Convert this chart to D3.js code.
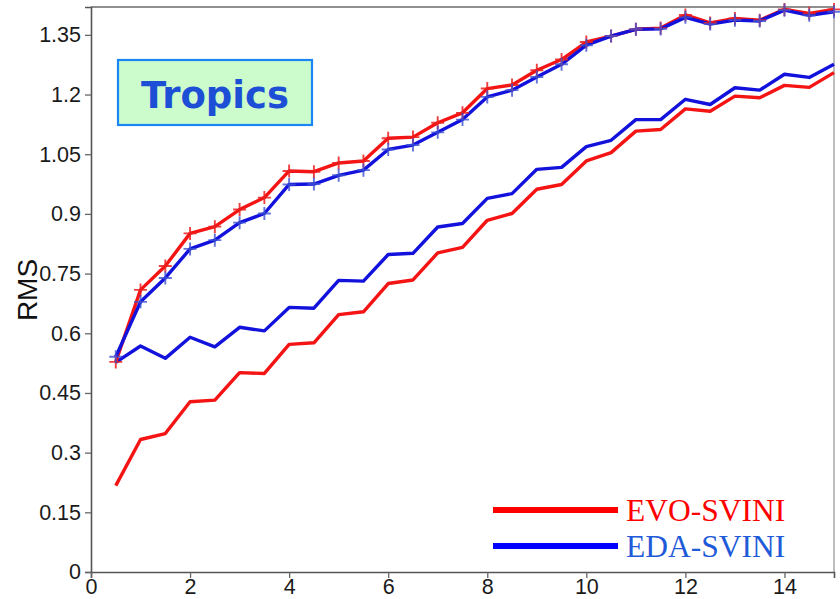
<!DOCTYPE html>
<html>
<head>
<meta charset="utf-8">
<script src="https://cdn.jsdelivr.net/npm/d3@7"></script>
<style>
  html, body { margin: 0; padding: 0; background: #fff; }
  svg { display: block; }
</style>
</head>
<body>
<svg id="chart" width="840" height="599"></svg>
<script>
// Forecast lead (days)
const leads = [0.5, 1, 1.5, 2, 2.5, 3, 3.5, 4, 4.5, 5, 5.5, 6, 6.5, 7, 7.5,
               8, 8.5, 9, 9.5, 10, 10.5, 11, 11.5, 12, 12.5, 13, 13.5, 14, 14.5, 15];

// RMS error (curves marked with +)
const evoErr = [0.528, 0.709, 0.769, 0.851, 0.868, 0.911, 0.941, 1.008, 1.006, 1.028,
                1.033, 1.090, 1.093, 1.129, 1.154, 1.215, 1.224, 1.261, 1.288, 1.332,
                1.347, 1.364, 1.367, 1.400, 1.380, 1.391, 1.387, 1.414, 1.404, 1.414];
const edaErr = [0.541, 0.679, 0.739, 0.812, 0.834, 0.878, 0.901, 0.974, 0.975, 0.997,
                1.010, 1.062, 1.073, 1.105, 1.137, 1.194, 1.211, 1.244, 1.276, 1.324,
                1.347, 1.364, 1.365, 1.394, 1.377, 1.387, 1.385, 1.412, 1.399, 1.408];

// RMS spread (plain curves)
const evoSpread = [0.217, 0.333, 0.348, 0.428, 0.432, 0.501, 0.499, 0.572, 0.576, 0.647,
                   0.654, 0.725, 0.734, 0.802, 0.816, 0.884, 0.901, 0.962, 0.974, 1.033,
                   1.054, 1.108, 1.112, 1.164, 1.158, 1.196, 1.192, 1.223, 1.218, 1.255];
const edaSpread = [0.527, 0.568, 0.537, 0.590, 0.566, 0.615, 0.606, 0.665, 0.663, 0.733,
                   0.731, 0.798, 0.801, 0.867, 0.876, 0.939, 0.951, 1.012, 1.017, 1.069,
                   1.085, 1.137, 1.137, 1.188, 1.175, 1.217, 1.211, 1.251, 1.243, 1.276];

const xTicks = [0, 2, 4, 6, 8, 10, 12, 14];
const yTicks = [0, 0.15, 0.3, 0.45, 0.6, 0.75, 0.9, 1.05, 1.2, 1.35];
const yTickLabels = ["0", "0.15", "0.3", "0.45", "0.6", "0.75", "0.9", "1.05", "1.2", "1.35"];

const seriesNames = ["EVO-SVINI", "EDA-SVINI"];
const regionTitle = "Tropics";
const yTitle = "RMS";

const RED = "#f41414";
const BLUE = "#1212dc";

const svg = d3.select("#chart");
const margin = { left: 91, top: 7, right: 6, bottom: 27 };
const W = 840, H = 599;

const x = d3.scaleLinear().domain([0, 15]).range([margin.left, W - margin.right]);
const y = d3.scaleLinear().domain([0, 1.42]).range([H - margin.bottom, margin.top]);

// frame: top and right edges
svg.append("line")
  .attr("x1", x(0)).attr("x2", x(15)).attr("y1", y(1.42)).attr("y2", y(1.42))
  .attr("stroke", "#6a6a6a").attr("stroke-width", 1.5);
svg.append("line")
  .attr("x1", x(15)).attr("x2", x(15)).attr("y1", y(1.42)).attr("y2", y(0))
  .attr("stroke", "#a8a8a8").attr("stroke-width", 1.5);

// axes
const yAxis = d3.axisLeft(y)
  .tickValues(yTicks)
  .tickFormat((d, i) => yTickLabels[i])
  .tickSize(6).tickPadding(4);
const xAxis = d3.axisBottom(x)
  .tickValues(xTicks)
  .tickFormat(d3.format("d"))
  .tickSize(6).tickPadding(1);

function styleAxis(g) {
  g.select(".domain").attr("stroke", "#555").attr("stroke-width", 1.6);
  g.selectAll(".tick line").attr("stroke", "#666").attr("stroke-width", 1.3);
  g.selectAll(".tick text")
    .attr("fill", "#1a1a1a")
    .style("font-family", "'Liberation Sans', Arial, sans-serif")
    .style("font-size", "21.5px");
}

svg.append("g").attr("transform", `translate(${margin.left},0)`).call(yAxis).call(styleAxis);
svg.append("g").attr("transform", `translate(0,${H - margin.bottom})`).call(xAxis).call(styleAxis);

// y title
svg.append("text")
  .attr("transform", `translate(37,290) rotate(-90)`)
  .attr("text-anchor", "middle")
  .style("font-family", "'Liberation Sans', Arial, sans-serif")
  .style("font-size", "28px")
  .attr("fill", "#111")
  .text(yTitle);

// curves
const line = d3.line()
  .x((d, i) => x(leads[i]))
  .y(d => y(d));

const curves = [
  { values: evoSpread, color: RED },
  { values: edaSpread, color: BLUE },
  { values: evoErr, color: RED, marker: "rgba(235,30,30,0.85)" },
  { values: edaErr, color: BLUE, marker: "rgba(60,80,210,0.8)" }
];

curves.forEach(c => {
  svg.append("path")
    .datum(c.values)
    .attr("d", line)
    .attr("fill", "none")
    .attr("stroke", c.color)
    .attr("stroke-width", 3.4)
    .attr("stroke-linejoin", "round");
});

// + markers on the error curves
curves.filter(c => c.marker).forEach(c => {
  svg.append("g").selectAll("path")
    .data(c.values)
    .join("path")
    .attr("transform", (d, i) => `translate(${x(leads[i])},${y(d)})`)
    .attr("d", "M-6.5,0H6.5M0,-6.5V6.5")
    .attr("fill", "none")
    .attr("stroke", c.marker)
    .attr("stroke-width", 1.9);
});

// region label box
const boxG = svg.append("g");
boxG.append("rect")
  .attr("x", 118).attr("y", 60).attr("width", 194).attr("height", 65)
  .attr("fill", "#ccfccc")
  .attr("stroke", "#1a86f5").attr("stroke-width", 2.2);
boxG.append("text")
  .attr("x", 215).attr("y", 107.5)
  .attr("text-anchor", "middle")
  .style("font-family", "'DejaVu Sans', Verdana, sans-serif")
  .style("font-weight", "bold")
  .style("font-size", "37px")
  .attr("fill", "#1d4fd6")
  .text(regionTitle);

// legend
const legend = svg.append("g");
const legendItems = [
  { name: seriesNames[0], line: "#ff0000", text: "#ff0000", yPos: 510 },
  { name: seriesNames[1], line: "#0000ff", text: "#1f5ad8", yPos: 546 }
];
legendItems.forEach(it => {
  legend.append("line")
    .attr("x1", 493).attr("x2", 618).attr("y1", it.yPos).attr("y2", it.yPos)
    .attr("stroke", it.line).attr("stroke-width", 6);
  legend.append("text")
    .attr("x", 626).attr("y", it.yPos + 11)
    .style("font-family", "'Liberation Serif', 'Times New Roman', serif")
    .style("font-size", "31.5px")
    .attr("fill", it.text)
    .text(it.name);
});
</script>
</body>
</html>
